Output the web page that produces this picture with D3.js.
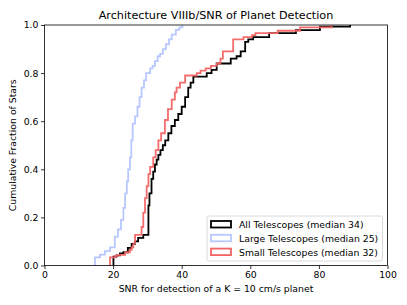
<!DOCTYPE html>
<html>
<head>
<meta charset="utf-8">
<script src="https://cdn.jsdelivr.net/npm/d3@7"></script>
<style>
  body { margin: 0; background: #fff; }
  svg text { font-family: "DejaVu Sans", sans-serif; fill: #000; }
</style>
</head>
<body>
<div id="chart"></div>
<script>
// cumulative fraction steps
var allSNR  = [20.1, 20.1, 21.0, 22.0, 23.0, 24.3, 25.4, 26.4, 27.3, 28.8, 30.3, 30.6, 31.2, 31.7, 32.2, 32.7, 33.2, 33.8, 34.5, 35.2, 36.1, 37.0, 38.0, 39.0, 40.0, 41.0, 41.9, 42.6, 43.4, 47.3, 48.7, 50.2, 54.3, 56.0, 57.2, 58.5, 59.4, 60.8, 65.5, 73.3, 80.3, 89.1];
var allFrac = [0, 0.037, 0.042, 0.05, 0.055, 0.073, 0.09, 0.10, 0.115, 0.127, 0.25, 0.30, 0.36, 0.39, 0.42, 0.44, 0.46, 0.48, 0.50, 0.52, 0.55, 0.58, 0.605, 0.63, 0.66, 0.70, 0.74, 0.76, 0.785, 0.80, 0.813, 0.84, 0.86, 0.87, 0.89, 0.93, 0.94, 0.95, 0.966, 0.979, 0.993, 1.0];

var largeSNR  = [14.7, 14.7, 16.2, 17.6, 19.1, 20.5, 21.4, 22.3, 23.0, 23.5, 24.0, 24.4, 24.9, 25.3, 25.7, 26.4, 27.1, 27.7, 28.3, 29.0, 29.6, 30.8, 31.5, 32.2, 33.0, 33.7, 34.5, 35.4, 36.3, 37.1, 38.3, 39.3, 40.2];
var largeFrac = [0, 0.034, 0.045, 0.06, 0.075, 0.12, 0.15, 0.19, 0.24, 0.30, 0.35, 0.40, 0.45, 0.52, 0.59, 0.62, 0.66, 0.70, 0.74, 0.77, 0.80, 0.82, 0.83, 0.85, 0.87, 0.88, 0.90, 0.92, 0.94, 0.96, 0.98, 0.99, 1.0];

var smallSNR  = [19.1, 19.1, 20.6, 21.4, 23.5, 24.9, 25.4, 25.9, 26.4, 28.3, 28.8, 29.3, 29.8, 30.3, 30.8, 31.7, 32.4, 33.2, 34.0, 35.1, 36.0, 37.1, 38.0, 38.5, 39.5, 41.0, 44.4, 45.5, 47.0, 48.5, 50.2, 51.3, 52.0, 55.0, 58.0, 60.5, 61.5, 68.0, 74.5, 83.7];
var smallFrac = [0, 0.034, 0.04, 0.044, 0.055, 0.065, 0.075, 0.092, 0.127, 0.16, 0.22, 0.28, 0.33, 0.38, 0.41, 0.45, 0.48, 0.52, 0.55, 0.605, 0.65, 0.69, 0.72, 0.74, 0.76, 0.79, 0.80, 0.81, 0.82, 0.83, 0.84, 0.86, 0.89, 0.94, 0.95, 0.958, 0.966, 0.976, 0.99, 1.0];

var seriesNames  = ['All Telescopes (median 34)', 'Large Telescopes (median 25)', 'Small Telescopes (median 32)'];
var seriesColors = ['#000000', '#b8c8ff', '#f46464'];
var xTicks = [0, 20, 40, 60, 80, 100];
var yTicks = [0, 0.2, 0.4, 0.6, 0.8, 1.0];

var W = 407, H = 305;
var margin = {top: 25, right: 19.5, bottom: 39.5, left: 44.5};
var width = W - margin.left - margin.right;
var height = H - margin.top - margin.bottom;
var fs = 9.3;

var svg = d3.select('#chart').append('svg')
	.attr('width', W)
	.attr('height', H);

var g = svg.append('g')
	.attr('transform', 'translate(' + margin.left + ',' + margin.top + ')');

var x = d3.scaleLinear().domain([0, 100]).range([0, width]);
var y = d3.scaleLinear().domain([0, 1]).range([height, 0]);

var line = d3.line()
	.x(function(d){ return x(d[0]); })
	.y(function(d){ return y(d[1]); })
	.curve(d3.curveStepAfter);

var series = [
	d3.zip(allSNR, allFrac),
	d3.zip(largeSNR, largeFrac),
	d3.zip(smallSNR, smallFrac)
];

// draw order: all, large, small (small on top like the original)
[0, 1, 2].forEach(function(i){
	g.append('path')
		.datum(series[i])
		.attr('fill', 'none')
		.attr('stroke', seriesColors[i])
		.attr('stroke-width', 1.8)
		.attr('stroke-opacity', i == 2 ? 0.95 : 1)
		.attr('d', line);
});

// axes
var xAxis = g.append('g')
	.attr('transform', 'translate(0,' + height + ')')
	.call(d3.axisBottom(x).tickValues(xTicks).tickSize(3.5).tickPadding(2.5).tickFormat(d3.format('d')));
var yAxis = g.append('g')
	.call(d3.axisLeft(y).tickValues(yTicks).tickSize(3.5).tickPadding(2.5).tickFormat(d3.format('.1f')));

[xAxis, yAxis].forEach(function(a){
	a.select('.domain').remove();
	a.selectAll('text').attr('font-size', fs).attr('font-family', '"DejaVu Sans", sans-serif').attr('fill', '#000');
	a.selectAll('line').attr('stroke', '#000').attr('stroke-width', 0.8);
});

// frame
g.append('rect')
	.attr('width', width)
	.attr('height', height)
	.attr('fill', 'none')
	.attr('stroke', '#000')
	.attr('stroke-width', 0.8);

// title and labels
svg.append('text')
	.attr('x', margin.left + width/2)
	.attr('y', 19)
	.attr('text-anchor', 'middle')
	.attr('font-size', 11.2)
	.text('Architecture VIIIb/SNR of Planet Detection');

svg.append('text')
	.attr('x', margin.left + width/2)
	.attr('y', 292)
	.attr('text-anchor', 'middle')
	.attr('font-size', fs)
	.text('SNR for detection of a K = 10 cm/s planet');

svg.append('text')
	.attr('transform', 'translate(15.5,' + (margin.top + height/2) + ') rotate(-90)')
	.attr('text-anchor', 'middle')
	.attr('font-size', fs)
	.text('Cumulative Fraction of Stars');

// legend
var legend = svg.append('g')
	.attr('transform', 'translate(207,216)');

legend.append('rect')
	.attr('width', 175.5)
	.attr('height', 45)
	.attr('rx', 2)
	.attr('fill', '#fff')
	.attr('fill-opacity', 0.8)
	.attr('stroke', '#d0d0d0')
	.attr('stroke-width', 0.8);

seriesNames.forEach(function(name, i){
	var row = legend.append('g')
		.attr('transform', 'translate(0,' + (5 + i*13.8) + ')');
	row.append('rect')
		.attr('x', 4)
		.attr('y', 0)
		.attr('width', 20)
		.attr('height', 6.5)
		.attr('fill', 'none')
		.attr('stroke', seriesColors[i])
		.attr('stroke-width', 1.8);
	row.append('text')
		.attr('x', 32)
		.attr('y', 7)
		.attr('font-size', fs)
		.text(name);
});
</script>
</body>
</html>
